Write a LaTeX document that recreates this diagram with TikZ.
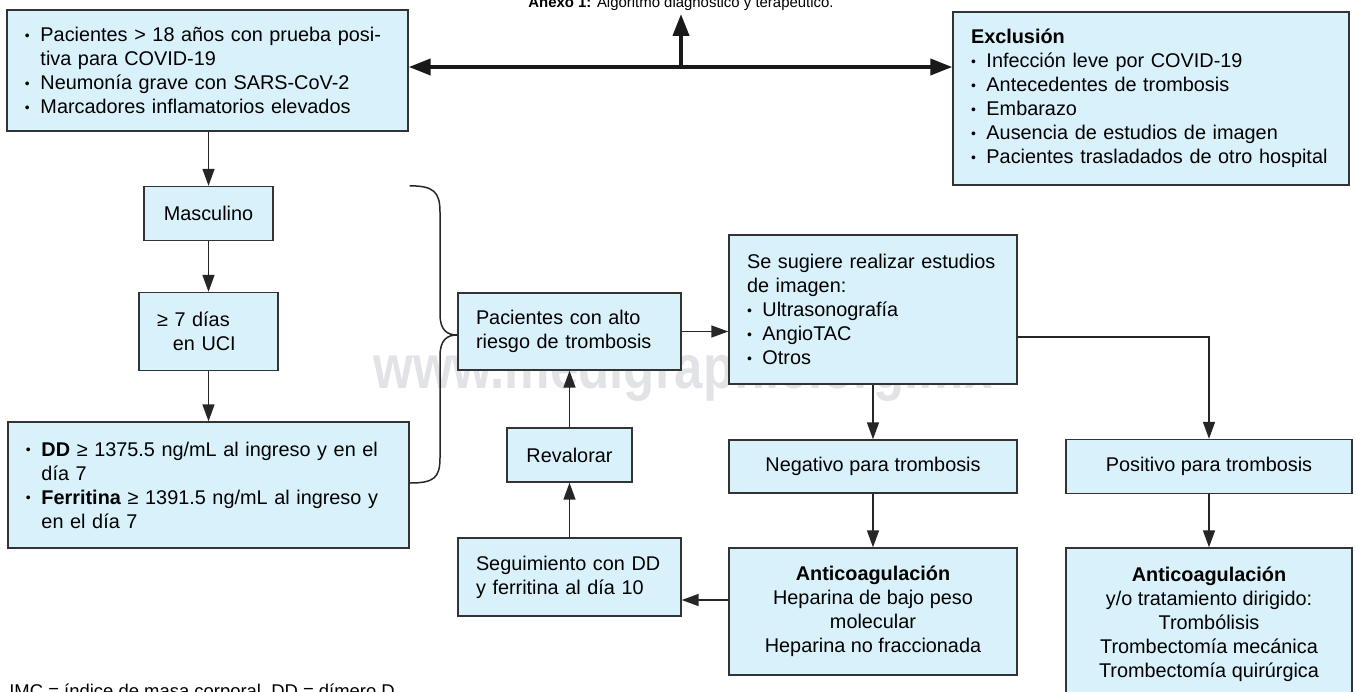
\documentclass[tikz,border=0pt]{standalone}
\usepackage{fontspec}
\setmainfont{Liberation Sans}
\usetikzlibrary{arrows.meta}
\definecolor{boxfill}{HTML}{D8F1FA}
\definecolor{boxline}{HTML}{333333}
\definecolor{wmark}{HTML}{E2E3E6}
\newcommand{\pxu}{0.02cm}
\newcommand{\bodyfont}{\fontsize{11.3}{13.66}\selectfont}
\newcommand{\bl}{\makebox[0.78em][l]{\raisebox{0.15ex}{\scalebox{0.7}{\textbullet}}}}
\newcommand{\ind}{\hspace*{0.78em}}
\tikzset{
  smalltip/.tip={Triangle[length=0.34cm,width=0.24cm]},
  bigtip/.tip={Triangle[length=0.44cm,width=0.32cm]}
}
\begin{document}
\begin{tikzpicture}[x=0.02cm,y=-0.02cm,
  box/.style={draw=boxline, fill=boxfill, line width=0.8pt, inner xsep=18*\pxu, inner ysep=0pt, font=\bodyfont},
  lbox/.style 2 args={box, minimum width=#1*\pxu, minimum height=#2*\pxu, text width=(#1-36)*\pxu, align=left},
  cbox/.style 2 args={box, minimum width=#1*\pxu, minimum height=#2*\pxu, align=center},
  arr/.style={draw=black!85, line width=0.9pt, -smalltip},
  bigarr/.style={draw=black!90, line width=2.2pt},
  brace/.style={draw=black!85, line width=0.85pt}]
\useasboundingbox (0,0) rectangle (1356,691);

% watermark, behind the boxes
\node[anchor=base west, text=wmark, inner sep=0pt, font=\fontsize{35}{35}\selectfont\bfseries] (wm) at (373,388) {\scalebox{0.83}[1]{www.medigraphic.org.mx}};

% title (cut at the top)
\node[anchor=base, inner sep=0pt, font=\fontsize{8.5}{10}\selectfont] (title) at (681,7) {\textbf{Anexo 1:} Algoritmo diagnóstico y terapéutico.};

% left column
\node[lbox={401}{121}] (inc) at (207.5,70.5) {\bl Pacientes > 18 años con prueba posi-\\ \ind tiva para COVID-19\\ \bl Neumonía grave con SARS-CoV-2\\ \bl Marcadores inflamatorios elevados};
\node[cbox={129}{54}] (masc) at (208.5,213.5) {Masculino};
\node[lbox={139}{78}] (uci) at (208.5,331.5) {≥ 7 días\\ \hspace*{0.8em}en UCI};
\node[lbox={401}{126}] (dd) at (208.5,485) {\bl \textbf{DD} ≥ 1375.5 ng/mL al ingreso y en el\\ \ind día 7\\ \bl \textbf{Ferritina} ≥ 1391.5 ng/mL al ingreso y\\ \ind en el día 7};

% exclusion
\node[lbox={396}{173}] (excl) at (1151,98.5) {\textbf{Exclusión}\\ \bl Infección leve por COVID-19\\ \bl Antecedentes de trombosis\\ \bl Embarazo\\ \bl Ausencia de estudios de imagen\\ \bl Pacientes trasladados de otro hospital};

% middle
\node[lbox={223}{77}] (riesgo) at (569.5,331.5) {Pacientes con alto\\ riesgo de trombosis};
\node[cbox={125}{54}] (rev) at (569.5,455) {Revalorar};
\node[lbox={223}{78}] (seg) at (569.5,577) {Seguimiento con DD\\ y ferritina al día 10};

% right
\node[lbox={288}{149}] (img) at (873,309.5) {Se sugiere realizar estudios\\ de imagen:\\ \bl Ultrasonografía\\ \bl AngioTAC\\ \bl Otros};
\node[cbox={288}{53}] (neg) at (873,466.5) {Negativo para trombosis};
\node[cbox={286}{54}] (pos) at (1209,466.5) {Positivo para trombosis};
\node[cbox={288}{127}] (ac1) at (873,611.5) {\textbf{Anticoagulación}\\ Heparina de bajo peso\\ molecular\\ Heparina no fraccionada};
\node[cbox={286}{152}] (ac2) at (1209,624) {\textbf{Anticoagulación}\\ y/o tratamiento dirigido:\\ Trombólisis\\ Trombectomía mecánica\\ Trombectomía quirúrgica};

% footnote (cut at the bottom)
\node[anchor=north west, inner sep=0pt, font=\fontsize{10.5}{12}\selectfont] (note) at (9,684) {IMC = índice de masa corporal, DD = dímero D.};

% top double arrow
\coordinate (hub) at (681,67);
\draw[bigarr, bigtip-bigtip] (hub -| inc.east) -- (hub -| excl.west);
\draw[bigarr, -bigtip, shorten >=2pt] (hub) -- (title.south);

% flow
\draw[arr] (masc |- inc.south) -- (masc.north);
\draw[arr] (masc.south) -- (uci.north);
\draw[arr] (uci.south) -- (uci.south |- dd.north);
\draw[arr] (riesgo.east) -- (riesgo.east -| img.west);
\draw[arr] (img.south) -- (neg.north);
\draw[arr] (img.east |- 0,337) -| (pos.north);
\draw[arr] (neg.south) -- (ac1.north);
\draw[arr] (pos.south) -- (ac2.north);
\draw[arr] (ac1.west |- 0,600) -- (seg.east |- 0,600);
\draw[arr] (seg.north) -- (rev.south);
\draw[arr] (rev.north) -- (riesgo.south);

% brace
\coordinate (tip) at (457,335);
\draw[brace] (dd.east |- masc.north) .. controls +(24,0) and +(0,-20) .. (440,212) -- (440,314)
  .. controls +(0,16) and +(-10,0) .. (tip) .. controls +(-10,0) and +(0,-16) .. (440,356)
  -- (440,458) .. controls +(0,20) and +(24,0) .. (dd.east |- 0,483);
\end{tikzpicture}
\end{document}
